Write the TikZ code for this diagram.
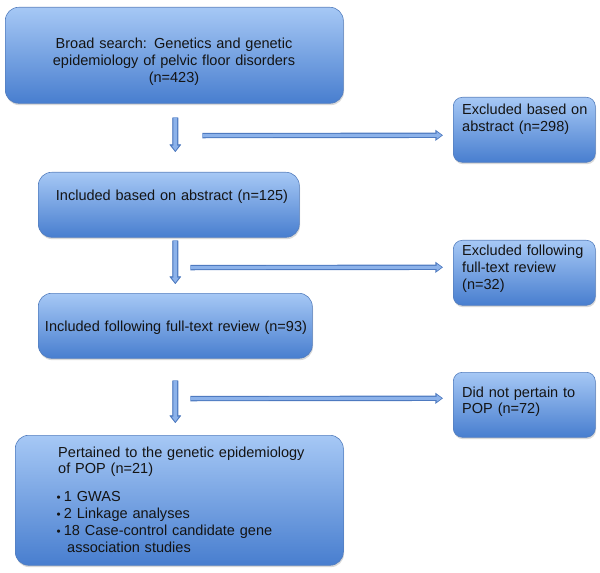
\documentclass[tikz,border=0pt]{standalone}
\usepackage{fontspec}
\setmainfont{Liberation Sans}
\usepackage{tikz}
\usetikzlibrary{calc,shadows,arrows.meta}
\definecolor{boxtop}{RGB}{166,200,245}
\definecolor{boxbot}{RGB}{72,126,207}
\definecolor{boxline}{RGB}{84,126,190}
\definecolor{flowdark}{RGB}{78,122,192}
\definecolor{flowlight}{RGB}{140,178,234}
\definecolor{txtcol}{RGB}{20,20,20}
\tikzset{
	box/.style={draw=boxline,line width=0.5pt,top color=boxtop,bottom color=boxbot,rounded corners=0.4cm,anchor=north west,inner sep=0pt,drop shadow={opacity=0.3,shadow xshift=0.6pt,shadow yshift=-1.6pt}},
	sbox/.style={box,rounded corners=0.27cm,minimum width=4.26cm,minimum height=1.95cm},
	lbl/.style={inner sep=0pt,text width=#1,align=left,anchor=base west,text=txtcol},
	clbl/.style={inner sep=0pt,text width=#1,align=center,anchor=base,text=txtcol},
	flow/.style={draw=flowlight,line width=0.09cm,shorten >=0.04cm,-{Triangle[width=0.2cm,length=0.15cm]},preaction={draw=flowdark,line width=0.16cm,shorten >=0cm,-{Triangle[width=0.32cm,length=0.23cm]}}},
	vflow/.style={flow,line width=0.11cm,preaction={draw=flowdark,line width=0.18cm,shorten >=0cm,-{Triangle[width=0.34cm,length=0.22cm]}}}
}
\begin{document}
\begin{tikzpicture}[x=0.03cm,y=-0.03cm,font=\fontsize{12.4}{14.5}\selectfont]
		\useasboundingbox (0,0) rectangle (600,573);
		
		% main column
		\node[box,minimum width=10.14cm,minimum height=2.88cm] (search) at (5,7) {};
		\node[box,minimum width=7.83cm,minimum height=1.95cm] (abstr) at (38,172) {};
		\node[box,minimum width=8.22cm,minimum height=1.95cm] (fulltext) at (38,293) {};
		\node[box,minimum width=9.84cm,minimum height=3.9cm] (pop) at (15,435) {};
		
		% excluded records
		\node[sbox] (exabstr) at (453,97) {};
		\node[sbox] (exfull) at (453,240) {};
		\node[sbox] (expop) at (453,372) {};
		
		\node[clbl=9.6cm] (searchtxt) at (174,49) {Broad search: Genetics and genetic\\ epidemiology of pelvic floor disorders\\ (n=423)};
		\node[clbl=7.6cm] (abstrtxt) at (172,201) {Included based on abstract (n=125)};
		\node[clbl=8cm] (fulltexttxt) at (176,331) {Included following full-text review (n=93)};
		\node[lbl=8.4cm] (poptxt) at (58,457) {Pertained to the genetic epidemiology\\ of POP (n=21)\\[0.33cm]
			\hspace*{-0.05cm}\makebox[0.22cm][l]{\fontsize{10}{10}\selectfont\textbullet}1 GWAS\\
			\hspace*{-0.05cm}\makebox[0.22cm][l]{\fontsize{10}{10}\selectfont\textbullet}2 Linkage analyses\\
			\hspace*{-0.05cm}\makebox[0.22cm][l]{\fontsize{10}{10}\selectfont\textbullet}18 Case-control candidate gene\\
			\hspace*{0.27cm}association studies};
		
		\node[lbl=4cm] (exabstrtxt) at (462,115) {Excluded based on\\ abstract (n=298)};
		\node[lbl=4cm] (exfulltxt) at (462,256) {Excluded following\\ full-text review\\ (n=32)};
		\node[lbl=4cm] (expoptxt) at (462,397) {Did not pertain to\\ POP (n=72)};
		
		% arrows
		\draw[vflow] ($(search.south)+(1,14)$) -- ($(abstr.north)+(6.5,-20)$);
		\draw[flow] ($(search.south)+(28,32)$) -- ($(exabstr.west)+(-10,5.5)$);
		\draw[vflow] ($(abstr.south)+(6.5,3)$) -- ($(fulltext.north)+(0,-9)$);
		\draw[flow] ($(abstr.south)+(21.5,30)$) -- ($(exfull.west)+(-10,-5.5)$);
		\draw[vflow] ($(fulltext.south)+(0,22)$) -- ($(pop.north)+(-4,-12)$);
		\draw[flow] ($(fulltext.south)+(15,40)$) -- ($(expop.west)+(-10,-6.5)$);
		
\end{tikzpicture}
\end{document}
